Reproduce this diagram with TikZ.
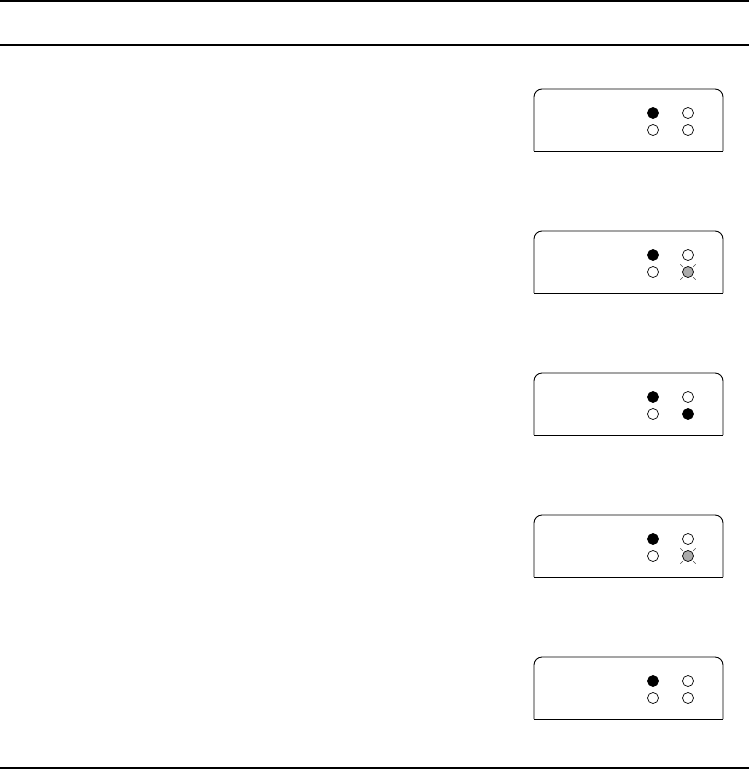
\documentclass[tikz,border=0pt]{standalone}
\usetikzlibrary{positioning}

\tikzset{
    panel/.style={draw, line width=0.9pt, rounded corners=8pt},
    ledoff/.style={circle, draw, line width=0.7pt, fill=white, minimum size=11pt, inner sep=0pt},
    ledon/.style={ledoff, fill=black},
    ledblink/.style={ledoff, fill=black!33},
    ray/.style={line width=0.4pt, black!70}
}

\newcommand{\blinkrays}[1]{%
    \draw[ray] ([shift={(1,-1)}]#1.45) -- ++(2.5,-2.5);
    \draw[ray] ([shift={(-1,-1)}]#1.135) -- ++(-2.5,-2.5);
    \draw[ray] ([shift={(1,1)}]#1.-45) -- ++(2.5,2.5);
    \draw[ray] ([shift={(-1,1)}]#1.-135) -- ++(-2.5,2.5);
}

\begin{document}
\begin{tikzpicture}[x=1pt, y=-1pt]
    \useasboundingbox (0,0) rectangle (749,769);

    % the rules
    \draw[line width=1.1pt] (0,1) -- (749,1);
    \draw[line width=1.1pt] (0,45) -- (749,45);
    \draw[line width=1.1pt] (0,768) -- (749,768);

    % first panel
    \draw[panel] (534,151) -- (534,89) -- (723,89) -- (723,151);
    \draw[line width=0.9pt] (534,151) -- (723,151);
    \node[ledon] (a11) at (653,113) {};
    \node[ledoff] (a12) at (688,113) {};
    \node[ledoff] (a21) at (653,130) {};
    \node[ledoff] (a22) at (688,130) {};

    % second panel
    \draw[panel] (534,293) -- (534,231) -- (723,231) -- (723,293);
    \draw[line width=0.9pt] (534,293) -- (723,293);
    \node[ledon] (b11) at (653,255) {};
    \node[ledoff] (b12) at (688,255) {};
    \node[ledoff] (b21) at (653,272) {};
    \node[ledblink] (b22) at (688,272) {};
    \blinkrays{b22}

    % third panel
    \draw[panel] (534,435) -- (534,373) -- (723,373) -- (723,435);
    \draw[line width=0.9pt] (534,435) -- (723,435);
    \node[ledon] (c11) at (653,397) {};
    \node[ledoff] (c12) at (688,397) {};
    \node[ledoff] (c21) at (653,414) {};
    \node[ledon] (c22) at (688,414) {};

    % fourth panel
    \draw[panel] (534,577) -- (534,515) -- (723,515) -- (723,577);
    \draw[line width=0.9pt] (534,577) -- (723,577);
    \node[ledon] (d11) at (653,539) {};
    \node[ledoff] (d12) at (688,539) {};
    \node[ledoff] (d21) at (653,556) {};
    \node[ledblink] (d22) at (688,556) {};
    \blinkrays{d22}

    % fifth panel
    \draw[panel] (534,719) -- (534,657) -- (723,657) -- (723,719);
    \draw[line width=0.9pt] (534,719) -- (723,719);
    \node[ledon] (e11) at (653,681) {};
    \node[ledoff] (e12) at (688,681) {};
    \node[ledoff] (e21) at (653,698) {};
    \node[ledoff] (e22) at (688,698) {};

\end{tikzpicture}
\end{document}
